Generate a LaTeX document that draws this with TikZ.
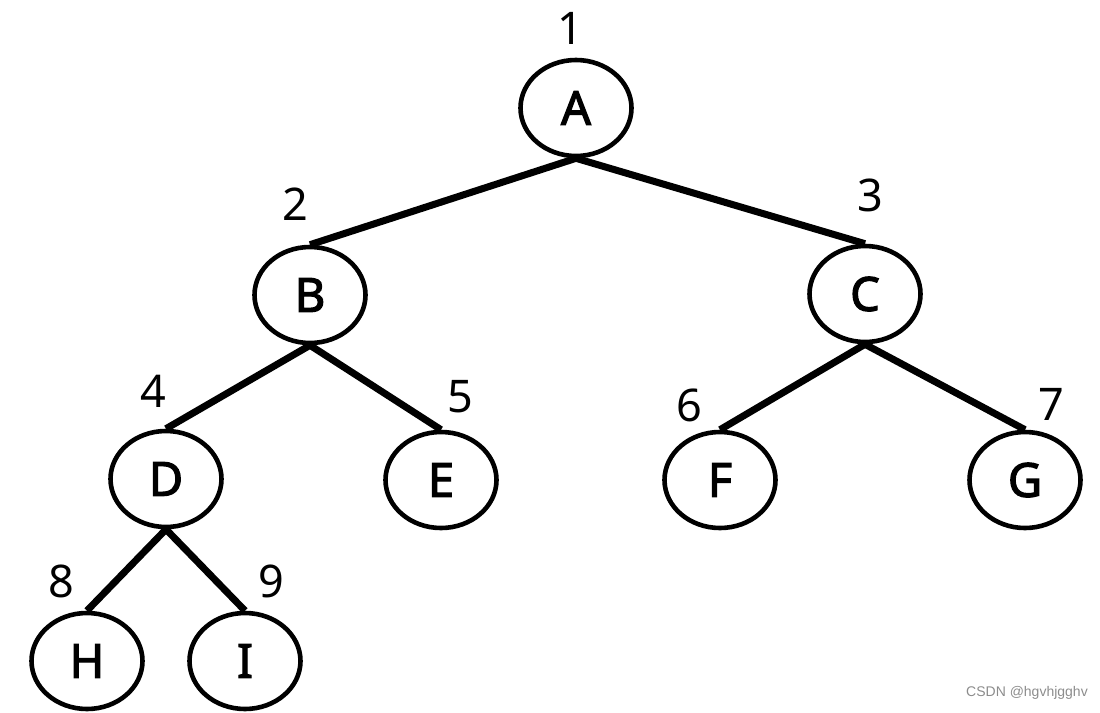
\documentclass[tikz,border=0pt]{standalone}
\usepackage{fontspec}
\setmainfont{Noto Sans}
\newfontfamily\letterfont[FakeBold=2.6]{Noto Sans}
\newfontfamily\wmfont{Liberation Sans}
\usetikzlibrary{shapes.geometric}
\begin{document}
\begin{tikzpicture}[x=1pt,y=-1pt,
  treenode/.style={ellipse,draw=black,line width=4.6pt,minimum width=111pt,minimum height=96pt,inner sep=0pt,font=\letterfont\fontsize{47}{47}\selectfont},
  numlabel/.style={inner sep=0pt,font=\fontsize{45}{45}\selectfont},
  edge/.style={line width=7pt,black}]
\useasboundingbox (0,0) rectangle (1100,712);
\node[treenode] (A) at (576,108) {A};
\node[treenode] (B) at (310,295) {B};
\node[treenode] (C) at (865,294) {C};
\node[treenode] (D) at (166,479) {D};
\node[treenode] (E) at (441,480) {E};
\node[treenode] (F) at (720,480) {F};
\node[treenode] (G) at (1025,480) {G};
\node[treenode] (H) at (87,661) {H};
\node[treenode] (I) at (245,661) {I};
\draw[edge] (A.south) -- (B.north);
\draw[edge] (A.south) -- (C.north);
\draw[edge] (B.south) -- (D.north);
\draw[edge] (B.south) -- (E.north);
\draw[edge] (C.south) -- (F.north);
\draw[edge] (C.south) -- (G.north);
\draw[edge] (D.south) -- (H.north);
\draw[edge] (D.south) -- (I.north);
\node[numlabel] (n1) at (570,28) {1};
\node[numlabel] (n2) at (295,204) {2};
\node[numlabel] (n3) at (870,195) {3};
\node[numlabel] (n4) at (153,391) {4};
\node[numlabel] (n5) at (460,397) {5};
\node[numlabel] (n6) at (689,405) {6};
\node[numlabel] (n7) at (1051,404) {7};
\node[numlabel] (n8) at (61,581) {8};
\node[numlabel] (n9) at (271,581) {9};
\node[inner sep=0pt,text=black!45,font=\wmfont\fontsize{14}{14}\selectfont] (wm) at (1027,693) {CSDN @hgvhjgghv};
\end{tikzpicture}
\end{document}
